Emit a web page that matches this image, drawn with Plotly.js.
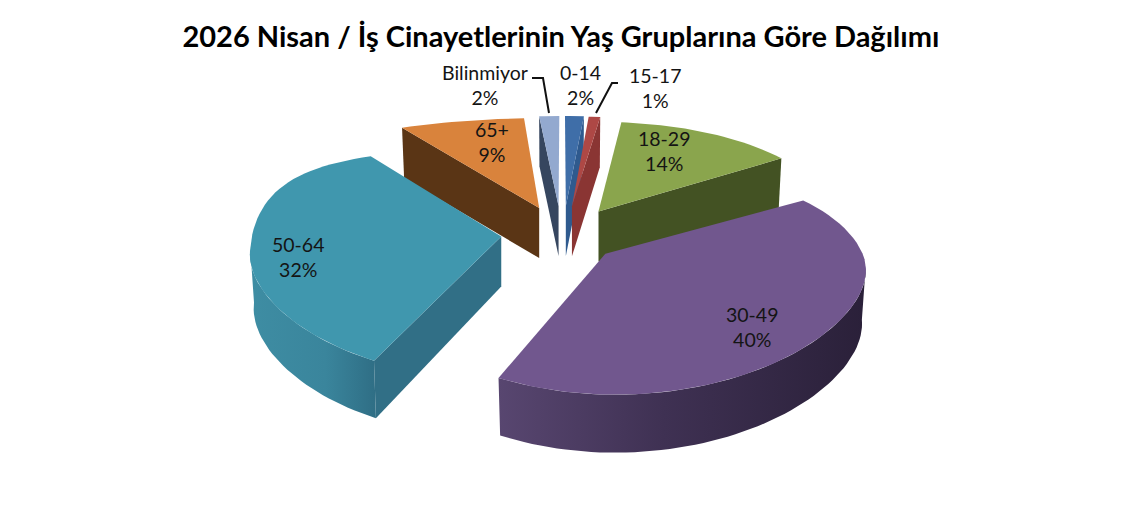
<!DOCTYPE html>
<html><head><meta charset="utf-8">
<script src="https://cdn.plot.ly/plotly-3.0.1.min.js"></script>
<style>html,body{margin:0;padding:0;background:#fff}</style>
</head><body><div id="chart" style="width:1123px;height:525px"></div>
<script>
const categories = ["0-14","15-17","18-29","30-49","50-64","65+","Bilinmiyor"];
const values = [2, 1.2, 14, 40.4, 32, 8.6, 1.8];
const topColors = ["#3F6EA8","#AE4845","#8AA54D","#71578E","#4097AE","#D9833C","#93A9CF"];
const wallColors = ["#2F5A8E","#8A3533","#435223","#3A2C4E","#316F86","#5A3515","#36465F"];
const rimColors = [
  null,
  null,
  null,
  [[0,"#584670"],[0.45,"#3F3153"],[1,"#2A2039"]],
  [[0,"#3E8DA3"],[0.6,"#3A859C"],[1,"#2F6E85"]],
  null,
  null
];
const drawOrder = [0,1,6,2,5,4,3];
const title = "2026 Nisan / İş Cinayetlerinin Yaş Gruplarına Göre Dağılımı";

/* pseudo-3D projection of the disc */
const CX=562, CY=234, EX=61, EYN=28, PERSP=0.22;
const rad=d=>d*Math.PI/180;
function rimOffset(th,ax,ay){
  const s=Math.sin(rad(th)), c=Math.cos(rad(th));
  const R = s>0 ? 251*(1+0.0019*(ay-CY)) : 251;
  const k = c<=0 ? 1 : (s>0 ? 1-0.37*Math.pow(c,1.5) : 1-0.3*Math.pow(c,6));
  const y = c>0 ? 12-171*c+69*c*c : 12-106*c+23*c*c;
  return {x:R*k*s-PERSP*(ax-CX)*c, y, c};
}
const depth=c=>54-4*c;
const total=values.reduce((a,b)=>a+b,0);
let acc=0;
const slices=values.map((v,i)=>{
  const a=acc/total*360; acc+=v; const b=acc/total*360; const m=(a+b)/2;
  const ax=CX+EX*Math.sin(rad(m)), ay=CY-EYN*Math.cos(rad(m));
  return {a,b,ax,ay,i};
});
function arcAngles(a,b){const n=Math.max(4,Math.ceil((b-a)/2)),o=[];for(let j=0;j<=n;j++)o.push(a+(b-a)*j/n);return o;}
const bx=(s,o)=>s.ax+o.x*0.985;
const by=(s,o)=>s.ay+o.y+depth(o.c);
const traces=[];
function poly(xs,ys,color,grad){
  const t={type:"scatter",mode:"lines",x:xs,y:ys,fill:"toself",line:{width:0,color:color},hoverinfo:"skip",showlegend:false};
  if(grad){t.fillgradient={type:"horizontal",colorscale:grad};}else{t.fillcolor=color;}
  traces.push(t);
}
drawOrder.forEach(i=>{
  const s=slices[i];
  const off_=th=>rimOffset(th,s.ax,s.ay);
  const walls=[];
  if(Math.sin(rad(s.b))>0) walls.push(s.b);
  if(Math.sin(rad(s.a))<0) walls.push(s.a);
  walls.forEach(th=>{
    const o=off_(th);
    poly([s.ax,s.ax+o.x,bx(s,o),s.ax,s.ax],[s.ay,s.ay+o.y,by(s,o),s.ay+50,s.ay],wallColors[i]);
  });
  const lo=Math.max(s.a,90), hi=Math.min(s.b,270);
  if(hi>lo){
    const off=arcAngles(lo,hi).map(off_);
    const bot=off.slice().reverse();
    poly(off.map(o=>s.ax+o.x).concat(bot.map(o=>bx(s,o))),off.map(o=>s.ay+o.y).concat(bot.map(o=>by(s,o))),wallColors[i],rimColors[i]);
  }
  const off=arcAngles(s.a,s.b).map(off_);
  poly([s.ax].concat(off.map(o=>s.ax+o.x),[s.ax]),[s.ay].concat(off.map(o=>s.ay+o.y),[s.ay]),topColors[i]);
});
/* leader lines */
const leaders=[[[532,543,549],[78,78,113]],[[618,612,596],[83,83,113]]];
leaders.forEach(l=>traces.push({type:"scatter",mode:"lines",x:l[0],y:l[1],line:{color:"#111",width:2},hoverinfo:"skip",showlegend:false}));

const labelPos=[[580,85],[655,88],[664,151],[752,327],[298,257],[492,142],[485,85]];
const annotations=categories.map((c,i)=>({
  x:labelPos[i][0],y:labelPos[i][1],xref:"x",yref:"y",showarrow:false,
  text:c+"<br>"+Math.round(values[i]/total*100)+"%",
  font:{family:"Lato, 'Open Sans', sans-serif",size:19.5,color:"#141414"},align:"center"
}));
Plotly.newPlot("chart",traces,{
  width:1123,height:525,margin:{l:0,r:0,t:0,b:0},paper_bgcolor:"#fff",plot_bgcolor:"#fff",showlegend:false,
  title:{text:"<b>"+title+"</b>",x:0.4995,xanchor:"center",y:0.93,yanchor:"middle",font:{family:"Lato, sans-serif",size:29,color:"#000"}},
  xaxis:{range:[0,1123],visible:false,fixedrange:true},
  yaxis:{range:[525,0],visible:false,fixedrange:true},
  annotations
},{displayModeBar:false,staticPlot:true});
</script></body></html>
